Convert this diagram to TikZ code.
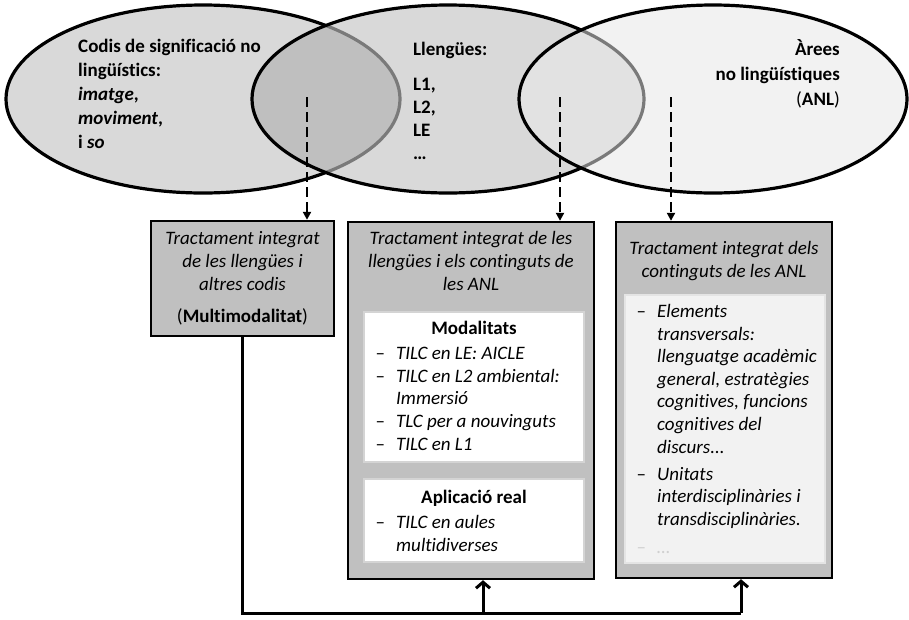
\documentclass[tikz,border=0pt]{standalone}
\usepackage{fontspec}
\setmainfont{Carlito}[Ligatures=NoCommon]
\usetikzlibrary{arrows.meta}

\definecolor{ellfill}{HTML}{D9D9D9}
\definecolor{ellover}{HTML}{BFBFBF}
\definecolor{ellright}{HTML}{F2F2F2}
\definecolor{ellmr}{HTML}{E2E2E2}
\definecolor{rimgray}{HTML}{7A7A7A}
\definecolor{boxfill}{HTML}{C0C0C0}
\definecolor{panelrim}{HTML}{D4D4D4}
\definecolor{softpanel}{HTML}{F2F2F2}
\definecolor{softrim}{HTML}{E4E4E4}
\definecolor{fainttext}{HTML}{D0D0D0}

% list dash hanging to the left of the item text
\newcommand{\itemdash}{\llap{–\hspace{11pt}}}

\tikzset{
  ellrim/.style={draw=black, line width=3.2pt},
  ellrimsoft/.style={draw=rimgray, line width=3.2pt},
  areabox/.style={draw=black, line width=2.4pt, fill=boxfill, inner sep=0pt},
  whitepanel/.style={draw=panelrim, line width=2pt, fill=white, inner sep=0pt},
  greypanel/.style={draw=softrim, line width=2pt, fill=softpanel, inner sep=0pt},
  txt/.style={inner sep=0pt, font=\fontsize{19}{22.6}\selectfont},
  itxt/.style={inner sep=0pt, font=\fontsize{19}{22.6}\selectfont\itshape},
  btxt/.style={inner sep=0pt, font=\fontsize{19}{22.6}\selectfont\bfseries},
  ellipsetxt/.style={inner sep=0pt, font=\fontsize{19}{24}\selectfont\bfseries},
  dasharrow/.style={draw=black, line width=2.2pt, dash pattern=on 10pt off 5pt,
    -{Triangle[length=8pt,width=8pt]}},
  link/.style={draw=black, line width=3pt},
  uparrow/.style={draw=black, line width=3pt, -{Straight Barb[length=6pt,width=14pt,line width=3pt]}},
}

\begin{document}
\begin{tikzpicture}[x=1pt, y=-1pt]
\useasboundingbox (0,0) rectangle (909,619);

% ---------- three overlapping areas ----------
\fill[ellfill] (203,99) ellipse [x radius=197, y radius=94];
\path[ellrim] (203,99) ellipse [x radius=197, y radius=94];
\fill[ellfill] (448,99) ellipse [x radius=196, y radius=94];
\begin{scope}
  \clip (448,99) ellipse [x radius=196, y radius=94];
  \fill[ellover] (203,99) ellipse [x radius=197, y radius=94];
  \path[ellrimsoft] (203,99) ellipse [x radius=197, y radius=94];
\end{scope}
\path[ellrim] (448,99) ellipse [x radius=196, y radius=94];
\fill[ellright] (713,99) ellipse [x radius=194, y radius=94];
\begin{scope}
  \clip (713,99) ellipse [x radius=194, y radius=94];
  \fill[ellmr] (448,99) ellipse [x radius=196, y radius=94];
  \path[ellrimsoft] (448,99) ellipse [x radius=196, y radius=94];
\end{scope}
\path[ellrim] (713,99) ellipse [x radius=194, y radius=94];

% multi-line nodes are anchored at the baseline of their last line
\node[ellipsetxt, anchor=base west, align=left] (codis) at (78,148)
  {Codis de significació no\\lingüístics:\\\textit{imatge},\\\textit{moviment},\\i \textit{so}};
\node[ellipsetxt, anchor=base west] (llengues) at (413,55) {Llengües:};
\node[ellipsetxt, anchor=base west, align=left, font=\fontsize{19}{22.7}\selectfont\bfseries] (llist) at (413,159)
  {L1,\\L2,\\LE\\…};
\node[ellipsetxt, anchor=base east, align=right, font=\fontsize{19}{25}\selectfont] (arees) at (840,105)
  {\textbf{Àrees}\\\textbf{no lingüístiques}\\(\textbf{ANL})};

% ---------- boxes ----------
\node[areabox, minimum width=183pt, minimum height=115pt] (b1) at (242.5,278.5) {};
\node[areabox, minimum width=246pt, minimum height=357pt] (b2) at (471,400.5) {};
\node[areabox, minimum width=216pt, minimum height=356pt] (b3) at (724,400) {};

\node[whitepanel, minimum width=220pt, minimum height=150pt] (p1) at (474,387) {};
\node[whitepanel, minimum width=220pt, minimum height=83pt] (p2) at (474,520.5) {};
\node[greypanel, minimum width=200pt, minimum height=268pt] (p3) at (725,429) {};

% box 1
\node[itxt, anchor=base, align=center] (h1) at (242.5,290)
  {Tractament integrat\\de les llengües i\\altres codis};
\node[txt, anchor=base] (multi) at (242.5,322) {(\textbf{Multimodalitat})};

% box 2
\node[itxt, anchor=base, align=center] (h2) at (471,290)
  {Tractament integrat de les\\llengües i els continguts de\\les ANL};
\node[btxt, anchor=base] (modal) at (474,334) {Modalitats};
\node[txt, anchor=base west, align=left] (mlist) at (396,450)
  {\itemdash\textit{TILC en LE: AICLE}\\\itemdash\textit{TILC en L2 ambiental:}\\\textit{Immersió}\\
   \itemdash\textit{TLC per a nouvinguts}\\\itemdash\textit{TILC en L1}};
\node[btxt, anchor=base] (aplic) at (474,503) {Aplicació real};
\node[txt, anchor=base west, align=left] (alist) at (396,551)
  {\itemdash\textit{TILC en aules}\\\textit{multidiverses}};

% box 3
\node[itxt, anchor=base, align=center] (h3) at (724,277)
  {Tractament integrat dels\\continguts de les ANL};
\node[txt, anchor=base west, align=left] (clist) at (657,553.5)
  {\itemdash\textit{Elements}\\\textit{transversals:}\\\textit{llenguatge acadèmic}\\\textit{general, estratègies}\\
   \textit{cognitives, funcions}\\\textit{cognitives del}\\\textit{discurs...}\\[4.5pt]
   \itemdash\textit{Unitats}\\\textit{interdisciplinàries i}\\\textit{transdisciplinàries.}\\[5.5pt]
   \textcolor{fainttext}{\itemdash\textit{…}}};

% ---------- connectors ----------
\coordinate (d1) at (307,97);
\coordinate (d2) at (560,97);
\coordinate (d3) at (671,97);
\draw[dasharrow] (d1) -- (d1 |- b1.north);
\draw[dasharrow] (d2) -- (d2 |- b2.north);
\draw[dasharrow] (d3) -- (d3 |- b3.north);

\coordinate (j1) at (483,613);
\coordinate (j2) at (741,613);
\draw[link] (b1.south) |- (j2);
\draw[uparrow] (j1) -- (j1 |- b2.south);
\draw[uparrow] (j2) -- (j2 |- b3.south);
\end{tikzpicture}
\end{document}
